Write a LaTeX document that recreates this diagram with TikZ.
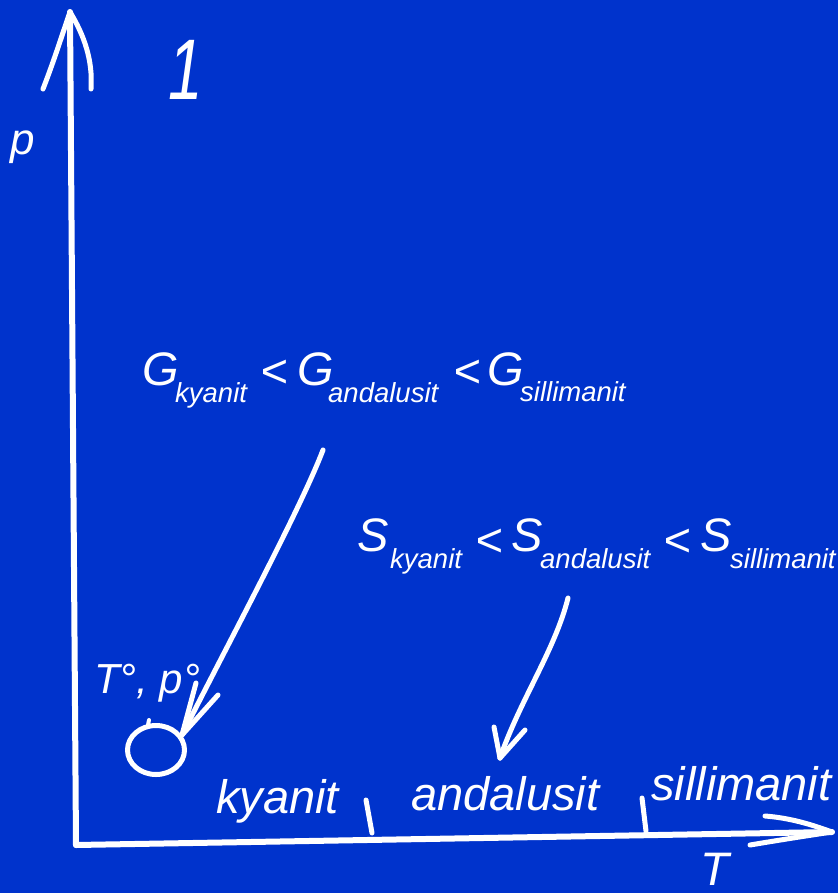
\documentclass[tikz,border=0pt]{standalone}
\usepackage{fontspec}
\setmainfont{Liberation Sans}
\usetikzlibrary{shapes.geometric}
\definecolor{bgblue}{RGB}{0,51,204}
\newcommand\mybig{\fontsize{47}{52}\selectfont\itshape}
\newcommand\mysub{\fontsize{27.5}{30}\selectfont\itshape}
\newcommand\myone{\fontsize{86}{90}\selectfont\itshape}
\newcommand\mymid{\fontsize{42}{46}\selectfont\itshape}
\tikzset{
  ink/.style={draw=white, line width=5pt, line cap=round, line join=round},
  big/.style={text=white, inner sep=0pt, anchor=base west, font=\mybig},
  small/.style={text=white, inner sep=0pt, anchor=base west, font=\mysub},
}
\begin{document}
\begin{tikzpicture}[x=1pt,y=-1pt]
\fill[bgblue] (0,0) rectangle (838,893);
\useasboundingbox (0,0) rectangle (838,893);

% axes
\coordinate (O) at (76,845);
\coordinate (ytip) at (70,12);
\coordinate (xtip) at (832,832);
\draw[ink, line width=6pt] (O) -- (ytip);
\draw[ink, line width=6pt] (O) -- (xtip);
\coordinate (yl) at (43,89);
\coordinate (yr) at (91,89);
\draw[ink] (yl) .. controls (55,58) and (62,35) .. (ytip);
\draw[ink] (yr) .. controls (93,60) and (84,35) .. (ytip);
\coordinate (xu) at (765,816);
\coordinate (xd) at (750,845);
\draw[ink] (xu) .. controls (790,818) and (810,824) .. (xtip);
\draw[ink] (xd) .. controls (780,840) and (805,836) .. (xtip);

% axis labels
\node[big, font=\fontsize{44}{48}\selectfont\itshape] (plbl) at (10,155) {p};
\node[big] (tlbl) at (700,885) {T};
\node[text=white, inner sep=0pt, anchor=base west, font=\myone] (one) at (168,100) {\scalebox{0.72}[1]{1}};

% G line
\node[big] (G1) at (142,385) {G};
\node[small] (Gk) at (175,402) {kyanit};
\node[big] (Gl1) at (260,387) {<};
\node[big] (G2) at (297,385) {G};
\node[small] (Ga) at (328,402) {andalusit};
\node[big] (Gl2) at (453,387) {<};
\node[big] (G3) at (487,385) {G};
\node[small] (Gs) at (520,401) {sillimanit};

% S line
\node[big] (S1) at (357,551) {S};
\node[small] (Sk) at (390,568) {kyanit};
\node[big] (Sl1) at (475,556) {<};
\node[big] (S2) at (511,551) {S};
\node[small] (Sa) at (540,568) {andalusit};
\node[big] (Sl2) at (663,556) {<};
\node[big] (S3) at (700,551) {S};
\node[small] (Ss) at (730,568) {sillimanit};

% standard state
\node[text=white, inner sep=0pt, anchor=base west, font=\mymid] (Tp) at (94,693) {T°, p°};
\node[ellipse, ink, minimum width=57pt, minimum height=49pt, inner sep=0pt] (circ) at (156,750) {};
\coordinate (pa) at (148,725);
\coordinate (pb) at (149,720);
\draw[ink, line width=4pt] (pa) -- (pb);

% arrows
\coordinate (g0) at (323,450);
\coordinate (gt) at (182,735);
\draw[ink] (g0) .. controls (300,510) and (230,640) .. (gt);
\draw[ink] (gt) -- (196,683);
\draw[ink] (gt) -- (218,695);
\coordinate (s0) at (568,598);
\coordinate (st) at (500,758);
\draw[ink] (s0) .. controls (555,650) and (520,700) .. (st);
\draw[ink] (st) -- (494,727);
\draw[ink] (st) -- (525,730);

% phase labels and boundaries
\node[big] (ky) at (216,813) {kyanit};
\node[big] (an) at (411,810) {andalusit};
\node[big] (si) at (651,800) {sillimanit};
\coordinate (t1a) at (366,800);
\coordinate (t1b) at (372,833);
\coordinate (t2a) at (642,798);
\coordinate (t2b) at (646,831);
\draw[ink] (t1a) -- (t1b);
\draw[ink] (t2a) -- (t2b);
\end{tikzpicture}
\end{document}
